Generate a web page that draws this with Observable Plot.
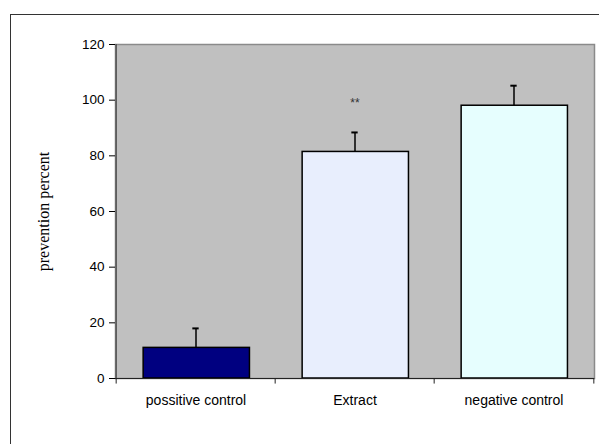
<!DOCTYPE html>
<html>
<head>
<meta charset="utf-8">
<script src="https://cdn.jsdelivr.net/npm/d3@7"></script>
<script src="https://cdn.jsdelivr.net/npm/@observablehq/plot@0.6"></script>
<style>
  html, body { margin: 0; padding: 0; background: #fff; }
  #wrap { position: relative; width: 599px; height: 444px; overflow: hidden; }
  #outer { position: absolute; left: 10px; top: 14px; width: 600px; height: 440px;
           border-top: 1px solid #333; border-left: 1px solid #333; box-sizing: border-box; }
  #chart { position: absolute; left: 0; top: 0; }
</style>
</head>
<body>
<div id="wrap"><div id="outer"></div><div id="chart"></div></div>
<script>
const categories = ["possitive control", "Extract", "negative control"];
const values = [11, 81.4, 98];
const errors = [7, 7, 7.2];
const barColors = ["#000080", "#e8eefd", "#e6fefe"];
const annotations = ["", "**", ""];
const yTicks = [0, 20, 40, 60, 80, 100, 120];
const yLabel = "prevention percent";

const data = categories.map((c, i) => ({
  cat: c, value: values[i], err: errors[i], color: barColors[i], note: annotations[i]
}));

const W = 599, H = 444, mL = 115, mR = 5, mT = 44, mB = 66;
const band = (W - mL - mR) / categories.length;

const chart = Plot.plot({
  width: W, height: H,
  marginLeft: mL, marginRight: mR, marginTop: mT, marginBottom: mB,
  style: { fontFamily: "'Liberation Sans', Arial, sans-serif", fontSize: "13px", background: "transparent", overflow: "visible", color: "#000" },
  x: { domain: categories, padding: 0 },
  y: { domain: [0, 120] },
  marks: [
    Plot.frame({ fill: "#c0c0c0", stroke: "#8a8a8a", strokeWidth: 1.5 }),
    Plot.barY(data, { x: "cat", y: "value", fill: "color", stroke: "#000", strokeWidth: 1.5,
      insetLeft: band * 0.17, insetRight: band * 0.16 }),
    Plot.ruleX(data, { x: "cat", y1: "value", y2: d => d.value + d.err, stroke: "#000", strokeWidth: 1.5 }),
    Plot.tickY(data, { x: "cat", y: d => d.value + d.err, stroke: "#000", strokeWidth: 2,
      insetLeft: band / 2 - 3.5, insetRight: band / 2 - 3.5 }),
    Plot.text(data, { x: "cat", y: d => d.value + d.err, text: "note", dy: -29, fontSize: 12, fill: "#333" }),
    Plot.ruleY([0], { stroke: "#222", strokeWidth: 1.2 }),
    Plot.ruleX([categories[0]], { x: d => d, dx: -band / 2, stroke: "#555", strokeWidth: 1.5 }),
    Plot.ruleX(categories, { x: d => d, y1: 0, y2: -2, dx: -band / 2, stroke: "#222" }),
    Plot.ruleX([categories[categories.length - 1]], { x: d => d, y1: 0, y2: -2, dx: band / 2, stroke: "#222" }),
    Plot.axisY({ ticks: yTicks, tickSize: 6, tickPadding: 5, label: null, fontSize: 13.5 }),
    Plot.axisX({ tickSize: 0, tickPadding: 17, label: null, fontSize: 14 }),
    Plot.text([yLabel], { frameAnchor: "left", textAnchor: "middle", text: d => d, rotate: -90, dx: -72,
      fontFamily: "'Liberation Serif', 'Times New Roman', serif", fontSize: 16, fill: "#000" })
  ]
});
document.getElementById("chart").appendChild(chart);
</script>
</body>
</html>
